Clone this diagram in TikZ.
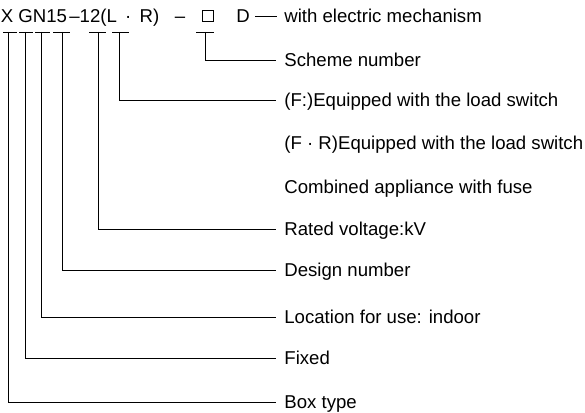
\documentclass[tikz,border=0pt]{standalone}
\usepackage{fontspec}
\setmainfont{Liberation Sans}
\begin{document}
\begin{tikzpicture}[x=1pt, y=-1pt, line width=0.8pt,
    code/.style={inner sep=0pt, text height=13pt, text depth=0pt, font=\fontsize{18.6}{20}\selectfont},
    lbl/.style={code, anchor=west}]
    \useasboundingbox (0,0) rectangle (585,412);
    % model code on the top row
    \node[code] (cx) at (7,16) {X};
    \node[code, anchor=west] (cgn) at (18,16) {GN15};
    \node[code, anchor=west] (cv) at (69,16) {--12(L\,\ ·\ \,R)};
    \node[code] (cdash) at (180,16) {--};
    \node[draw, minimum size=11pt, inner sep=0pt, line width=0.6pt] (csq) at (208,16) {};
    \node[code] (cd) at (243,16) {D};

    % explanations
    \node[lbl] (lmech) at (284,16) {with electric mechanism};
    \node[lbl] (lscheme) at (284,60) {Scheme number};
    \node[lbl] (lload) at (284,100) {(F:)Equipped with the load switch};
    \node[lbl] (lloadr) at (284,143) {(F\ ·\ R)Equipped with the load switch};
    \node[lbl] (lfuse) at (284,187) {Combined appliance with fuse};
    \node[lbl] (lvolt) at (284,229) {Rated voltage:kV};
    \node[lbl] (ldesign) at (284,270) {Design number};
    \node[lbl] (lloc) at (284,317) {Location for use: indoor};
    \node[lbl] (lfixed) at (284,358) {Fixed};
    \node[lbl] (lbox) at (284,402) {Box type};

    % tick marks under the code
    \foreach \n/\xa/\xb/\xv in {box/3/17/8, fixed/19/33/25, loc/35/50/41, design/53/70/62,
                                 volt/89/106/98, load/112/129/119, scheme/196/214/205} {
        \draw (\xa,32) -- (\xb,32);
        \coordinate (t\n) at (\xv,32);
    }

    \draw ([xshift=5pt]cd.east) -- ([xshift=-7pt]lmech.west);
    \draw (tscheme) |- ([xshift=-8pt]lscheme.west);
    \draw (tload) |- ([xshift=-8pt]lload.west);
    \draw (tvolt) |- ([xshift=-8pt]lvolt.west);
    \draw (tdesign) |- ([xshift=-8pt]ldesign.west);
    \draw (tloc) |- ([xshift=-8pt]lloc.west);
    \draw (tfixed) |- ([xshift=-8pt]lfixed.west);
    \draw (tbox) |- ([xshift=-8pt]lbox.west);
\end{tikzpicture}
\end{document}
